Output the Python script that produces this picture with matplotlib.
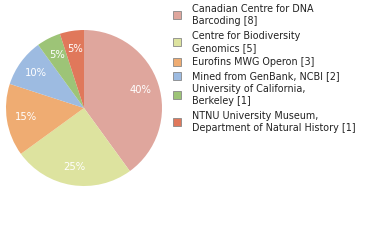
import matplotlib
matplotlib.use("Agg")
import matplotlib.pyplot as plt
from matplotlib.patches import Rectangle

labels = ["Canadian Centre for DNA\nBarcoding [8]",
          "Centre for Biodiversity\nGenomics [5]",
          "Eurofins MWG Operon [3]",
          "Mined from GenBank, NCBI [2]",
          "University of California,\nBerkeley [1]",
          "NTNU University Museum,\nDepartment of Natural History [1]"]
counts = [8, 5, 3, 2, 1, 1]
colors = ["#dfa69d", "#dde39f", "#efac72", "#9dbbe1", "#9dc477", "#e0785b"]
legend_y = [15, 42, 62, 76, 95, 122]  # px from top

W, H = 380, 240
fig = plt.figure(figsize=(W/100, H/100), dpi=100)
cx, cy, R = 84, 108, 78
ax = fig.add_axes([(cx-R)/W, (H-cy-R)/H, 2*R/W, 2*R/H])
wedges, texts, autotexts = ax.pie(
    counts, colors=colors, startangle=90, counterclock=False,
    autopct=lambda p: f"{p:.0f}%", pctdistance=0.76,
    wedgeprops=dict(linewidth=0),
    textprops=dict(color="white", fontsize=7.2))
ax.set_xlim(-1, 1)
ax.set_ylim(-1, 1)
ax.set_aspect("equal")
ax.axis("off")

for lab, col, y in zip(labels, colors, legend_y):
    fig.patches.append(Rectangle(((173)/W, (H-y-4)/H), 8/W, 8/H,
                                 transform=fig.transFigure, facecolor=col,
                                 edgecolor="#888888", linewidth=0.6))
    fig.text(192/W, (H-y)/H, lab, fontsize=6.9, color="#222222",
             va="center", ha="left", linespacing=1.15)

fig.savefig("out.png", dpi=100)
